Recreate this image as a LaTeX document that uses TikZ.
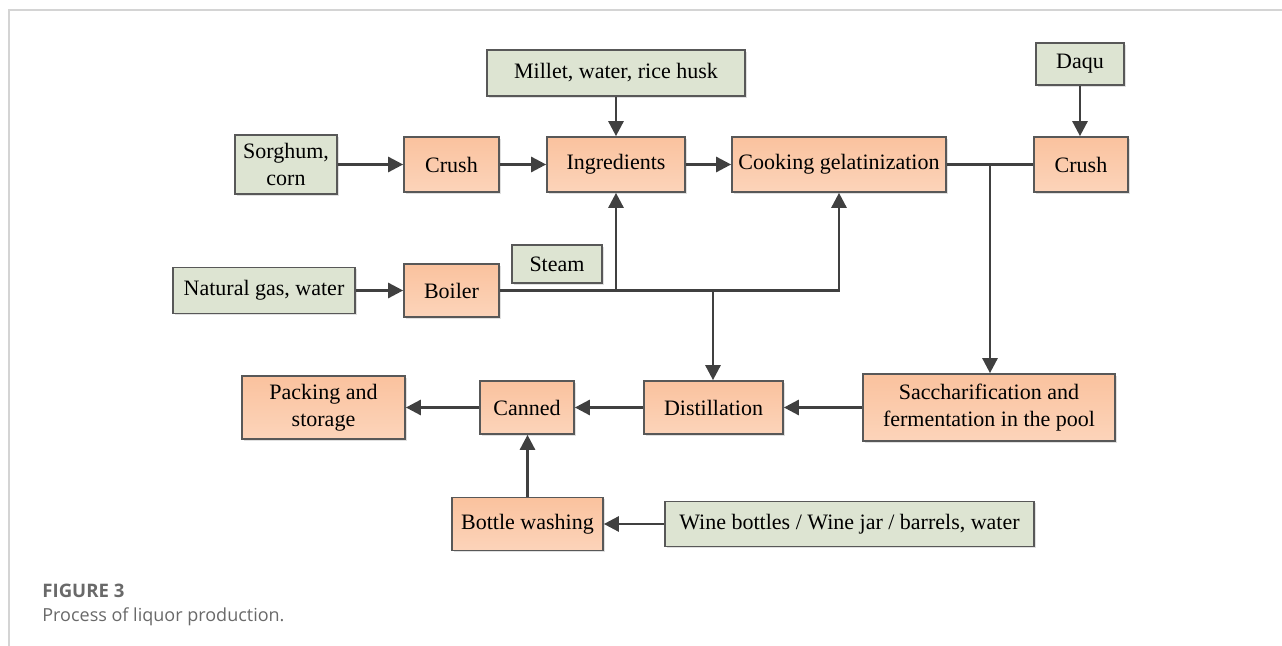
\documentclass[tikz,border=0pt]{standalone}
\usepackage{fontspec}
\setmainfont{Liberation Serif}
\newfontfamily\capfont{Open Sans}
\usetikzlibrary{arrows.meta,shadows}
\definecolor{boxgreen}{RGB}{221,228,210}
\definecolor{orangetop}{RGB}{250,194,158}
\definecolor{orangebot}{RGB}{252,212,186}
\definecolor{edgegray}{RGB}{88,88,88}
\definecolor{arrowgray}{RGB}{64,64,64}
\definecolor{framegray}{RGB}{212,212,212}
\definecolor{capgray}{RGB}{105,105,105}
\begin{document}
\begin{tikzpicture}[x=0.5pt,y=-0.5pt,
  box/.style={draw=edgegray,line width=0.85pt,inner sep=0pt,align=center,
    font=\fontsize{11}{13.5}\selectfont,
    drop shadow={shadow xshift=0.9pt,shadow yshift=-0.9pt,opacity=0.12,fill=black}},
  gbox/.style={box,fill=boxgreen},
  obox/.style={box,top color=orangetop,bottom color=orangebot},
  flow/.style={draw=arrowgray,line width=1.35pt,-{Triangle[length=7.5pt,width=7.5pt]}},
  link/.style={draw=arrowgray,line width=1.35pt},
  captext/.style={anchor=base west,inner sep=0pt,text=capgray}]
\useasboundingbox (0,0) rectangle (1282,646);
\draw[framegray,line width=0.8pt] (1282,10) -- (9,10) -- (9,646);

% top row
\node[gbox,minimum width=51pt,minimum height=29.5pt] (sorg) at (286,164.5) {Sorghum,\\corn};
\node[obox,minimum width=47.5pt,minimum height=27.5pt] (crush1) at (451.5,164.5) {Crush};
\node[obox,minimum width=69pt,minimum height=27.5pt] (ingr) at (616,164.5) {Ingredients};
\node[obox,minimum width=107pt,minimum height=27.5pt] (cook) at (839,164.5) {Cooking gelatinization};
\node[obox,minimum width=47pt,minimum height=27.5pt] (crush2) at (1081,164.5) {Crush};
\node[gbox,minimum width=129pt,minimum height=23pt] (millet) at (616,73) {Millet, water, rice husk};
\node[gbox,minimum width=44pt,minimum height=21pt] (daqu) at (1080,64) {Daqu};

% boiler row
\node[gbox,minimum width=91pt,minimum height=23pt] (natgas) at (264,290.5) {Natural gas, water};
\node[obox,minimum width=47.5pt,minimum height=26.5pt] (boiler) at (451.5,290.5) {Boiler};
\node[gbox,minimum width=45pt,minimum height=19pt] (steam) at (557,264) {Steam};

% lower rows
\node[obox,minimum width=81.5pt,minimum height=31.5pt] (pack) at (323.5,407.5) {Packing and\\storage};
\node[obox,minimum width=47pt,minimum height=26.5pt] (canned) at (527,407.5) {Canned};
\node[obox,minimum width=69.5pt,minimum height=26.5pt] (dist) at (713.5,407.5) {Distillation};
\node[obox,minimum width=126pt,minimum height=33.5pt] (sacch) at (989,407.5) {Saccharification and\\fermentation in the pool};
\node[obox,minimum width=75.5pt,minimum height=26.5pt] (bottle) at (527.5,524) {Bottle washing};
\node[gbox,minimum width=184.5pt,minimum height=22.5pt] (wine) at (849.5,524) {Wine bottles / Wine jar / barrels, water};

% connectors
\draw[flow] (sorg) -- (crush1);
\draw[flow] (crush1) -- (ingr);
\draw[flow] (millet) -- (ingr);
\draw[flow] (ingr) -- (cook);
\draw[link] (cook.east) -- (crush2.west);
\coordinate (jc) at (990,164.5);
\draw[flow] (jc) -- (jc |- sacch.north);
\draw[flow] (daqu.south) -- (daqu.south |- crush2.north);
\draw[flow] (natgas) -- (boiler);
\draw[flow] (boiler.east) -| (cook.south);
\coordinate (ja) at (boiler.east -| ingr.south);
\draw[flow] (ja) -- (ingr.south);
\coordinate (jb) at (713,290.5);
\draw[flow] (jb) -- (jb |- dist.north);
\draw[flow] (sacch) -- (dist);
\draw[flow] (dist) -- (canned);
\draw[flow] (canned) -- (pack);
\draw[flow] (bottle.north) -- (bottle.north |- canned.south);
\draw[flow] (wine) -- (bottle);

% caption
\node[captext,font=\capfont\bfseries\fontsize{9.3}{11}\selectfont] (fig) at (42,598) {FIGURE 3};
\node[captext,font=\capfont\fontsize{9}{11}\selectfont] (caption) at (42,622) {Process of liquor production.};
\end{tikzpicture}
\end{document}
